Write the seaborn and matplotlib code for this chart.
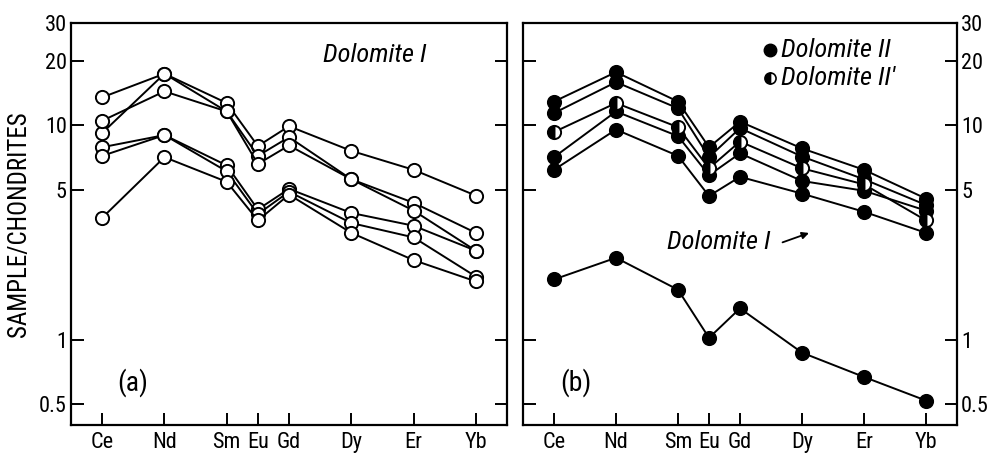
import matplotlib
matplotlib.use("Agg")
import matplotlib.pyplot as plt
import seaborn as sns
import pandas as pd

# ---- data ----
elements = ["Ce", "Nd", "Sm", "Eu", "Gd", "Dy", "Er", "Yb"]
atomic_numbers = [58, 60, 62, 63, 64, 66, 68, 70]

# Panel (a): Dolomite I samples
dolI_a1 = [13.5, 17.4, 12.7, 8.0, 9.9, 7.6, 6.2, 4.7]
dolI_a2 = [9.2, 17.4, 11.6, 7.2, 8.8, 5.6, 4.35, 3.15]
dolI_a3 = [10.5, 14.4, 11.6, 6.6, 8.05, 5.6, 4.0, 2.6]
dolI_a4 = [7.9, 9.0, 6.5, 4.05, 5.05, 3.9, 3.4, 2.6]
dolI_a5 = [7.2, 9.0, 6.1, 3.85, 4.9, 3.5, 3.0, 1.97]
dolI_a6 = [3.7, 7.1, 5.45, 3.6, 4.75, 3.15, 2.35, 1.87]

# Panel (b): Dolomite II / II' samples
dolII_1 = [12.9, 17.7, 12.9, 7.9, 10.4, 7.8, 6.2, 4.55]
dolII_2 = [11.4, 15.9, 12.0, 7.1, 9.7, 7.15, 5.6, 4.25]
dolII_p = [9.3, 12.7, 9.8, 6.3, 8.4, 6.3, 5.3, 3.6]
dolII_4 = [7.1, 11.6, 8.9, 5.85, 7.4, 5.5, 4.95, 4.0]
dolII_5 = [6.2, 9.55, 7.2, 4.68, 5.75, 4.8, 3.95, 3.15]
dolI_b = [1.91, 2.41, 1.71, 1.02, 1.40, 0.87, 0.67, 0.52]

yticks = [0.5, 1, 5, 10, 20, 30]
ytick_labels = ["0.5", "1", "5", "10", "20", "30"]

# ---- style ----
sns.set_theme(style="white")
plt.rcParams["font.family"] = ["Liberation Sans Narrow", "Roboto Condensed",
                               "Archivo Narrow", "DejaVu Sans"]
plt.rcParams["axes.linewidth"] = 1.6
for k in ["text.color", "axes.labelcolor", "xtick.color", "ytick.color"]:
    plt.rcParams[k] = "black"

fig = plt.figure(figsize=(9.9, 4.53), dpi=100)
axL = fig.add_axes([71 / 990, 1 - 425 / 453, 436 / 990, 402 / 453])
axR = fig.add_axes([523 / 990, 1 - 425 / 453, 434 / 990, 402 / 453])


def draw(ax, vals, face="white", fillstyle="full", alt="white"):
    df = pd.DataFrame({"x": atomic_numbers, "y": vals})
    sns.lineplot(data=df, x="x", y="y", ax=ax, color="black", lw=1.4,
                 marker="o", markersize=9.5, markeredgecolor="black",
                 markeredgewidth=1.4, markerfacecolor=face,
                 fillstyle=fillstyle, markerfacecoloralt=alt)


for s in [dolI_a1, dolI_a2, dolI_a3, dolI_a4, dolI_a5, dolI_a6]:
    draw(axL, s, face="white")

for s in [dolII_1, dolII_2, dolII_4, dolII_5, dolI_b]:
    draw(axR, s, face="black")
draw(axR, dolII_p, face="black", fillstyle="left", alt="white")

for ax in (axL, axR):
    ax.set_yscale("log")
    ax.set_xlim(57, 71)
    ax.set_ylim(0.4, 30)
    ax.set_xticks(atomic_numbers)
    ax.set_xticklabels(elements, fontsize=16)
    ax.set_yticks(yticks)
    ax.set_yticklabels(ytick_labels, fontsize=16)
    ax.yaxis.set_minor_locator(matplotlib.ticker.NullLocator())
    ax.set_xlabel("")
    ax.set_ylabel("")
    for sp in ax.spines.values():
        sp.set_color("black")
        sp.set_linewidth(1.6)
    ax.tick_params(axis="both", direction="in", length=9, width=1.4,
                   colors="black", pad=3)
    ax.tick_params(axis="x", pad=5)

axL.tick_params(axis="y", left=True, right=True, labelleft=True, labelright=False)
axR.tick_params(axis="y", left=True, right=True, labelleft=False, labelright=True)
axL.tick_params(axis="x", bottom=True, top=False)
axR.tick_params(axis="x", bottom=True, top=False)

axL.set_ylabel("SAMPLE/CHONDRITES", fontsize=18, labelpad=6)

axL.text(0.578, 0.92, "Dolomite I", transform=axL.transAxes, fontsize=19,
         style="italic", ha="left", va="center")
axL.text(0.105, 0.105, "(a)", transform=axL.transAxes, fontsize=20,
         ha="left", va="center")
axR.text(0.085, 0.105, "(b)", transform=axR.transAxes, fontsize=20,
         ha="left", va="center")

# legend in panel (b)
axR.plot([0.57], [0.932], transform=axR.transAxes, marker="o", ms=9,
         color="black", ls="none")
axR.text(0.595, 0.932, "Dolomite II", transform=axR.transAxes, fontsize=19,
         style="italic", ha="left", va="center")
axR.plot([0.57], [0.862], transform=axR.transAxes, marker="o", ms=8,
         markerfacecolor="black", markerfacecoloralt="white", fillstyle="left",
         markeredgecolor="black", markeredgewidth=1.2, ls="none")
axR.text(0.595, 0.862, "Dolomite II'", transform=axR.transAxes, fontsize=19,
         style="italic", ha="left", va="center")

axR.text(0.332, 0.455, "Dolomite I", transform=axR.transAxes, fontsize=19,
         style="italic", ha="left", va="center")
axR.annotate("", xy=(0.665, 0.48), xytext=(0.592, 0.452),
             xycoords="axes fraction", textcoords="axes fraction",
             arrowprops=dict(arrowstyle="-|>", color="black", lw=1.3,
                             mutation_scale=10))

fig.savefig("out.png", dpi=100, facecolor="white")
